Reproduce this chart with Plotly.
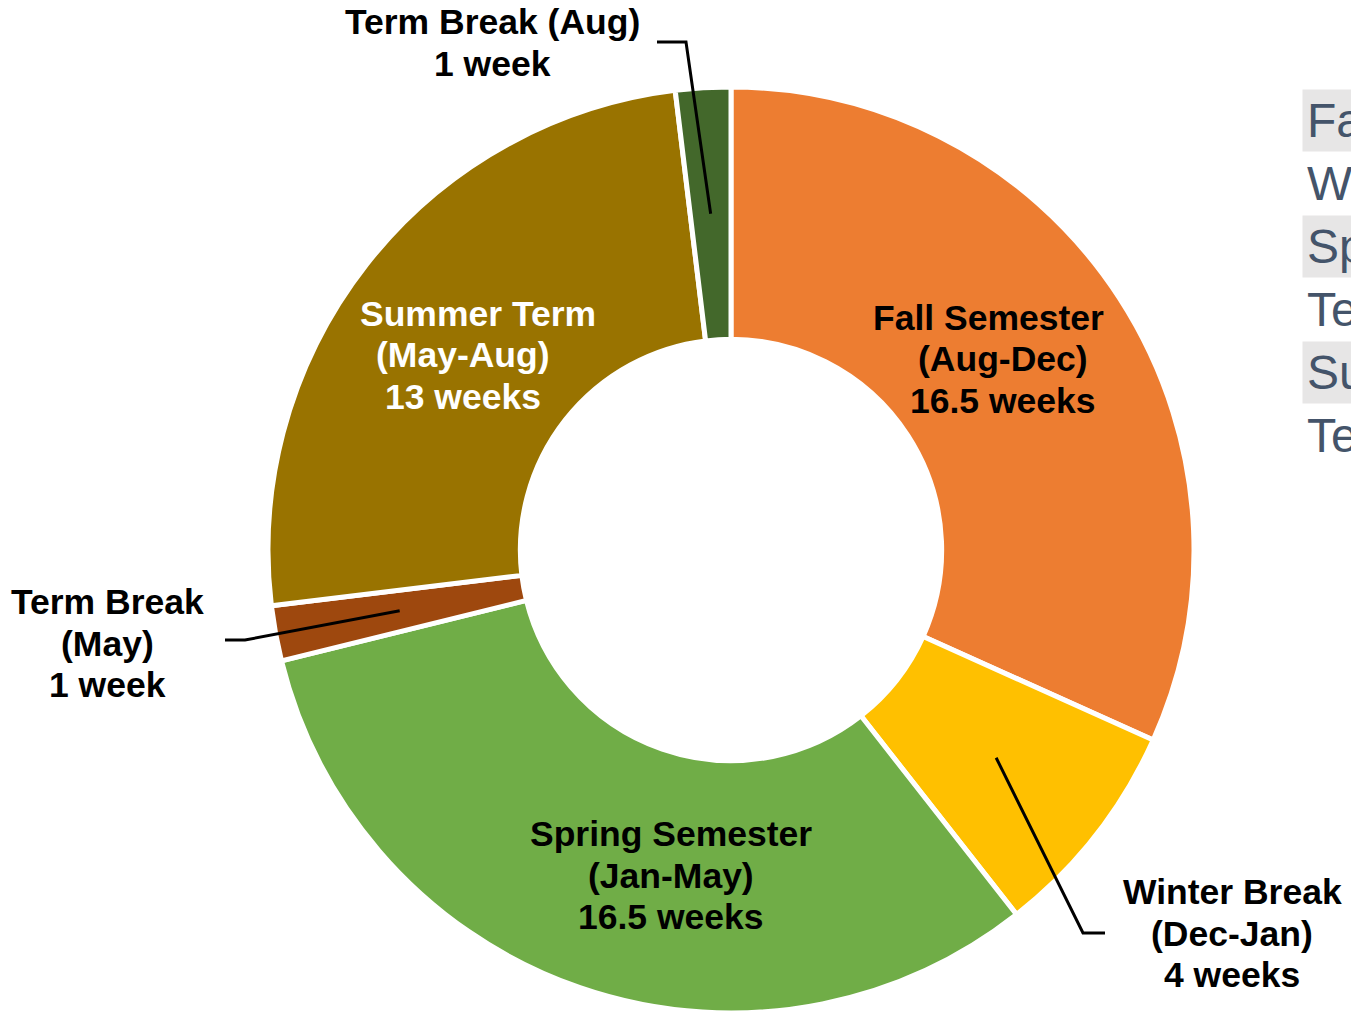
import math
import plotly.graph_objects as go

# ---------------- data ----------------
categories = ["Fall Semester", "Winter Break", "Spring Semester", "Term Break", "Summer Term", "Term Break"]
periods = ["(Aug-Dec)", "(Dec-Jan)", "(Jan-May)", "(May)", "(May-Aug)", "(Aug)"]
weeks = [16.5, 4, 16.5, 1, 13, 1]
colors = ["#ED7D31", "#FFC000", "#70AD47", "#9E480E", "#997300", "#43682B"]

# ---------------- layout constants ----------------
W, H = 1351, 1016
CX, CY, R = 731, 550, 463
HOLE = 0.455
FONT = "Arial, 'Liberation Sans', sans-serif"

# label placement (pixel centre of first line, x of later lines), line pitch
label_pos = [(988, 1003, 318), (1232, 1232, 892), (671, 671, 834), (108, 108, 602),
             (478, 463, 314), (492, 492, 22)]
label_color = ["black", "black", "black", "black", "white", "black"]
label_combine = [False, False, False, False, False, True]  # name+period on one line
LINE_PITCH = 41.5
# leader line elbows for outside labels (index -> list of pixel points after the slice anchor)
leaders = {5: [(686, 42), (657, 42)], 3: [(245, 640), (225, 640)], 1: [(1083, 933), (1105, 933)]}


def px(x):
    return x / W


def py(y):
    return 1 - y / H


def week_text(w):
    return f"{w:g} week" + ("" if w == 1 else "s")


names = [f"{c} {p}" if c == "Term Break" else c for c, p in zip(categories, periods)]

fig = go.Figure()
fig.add_trace(go.Pie(
    labels=names,
    values=weeks,
    sort=False,
    direction="clockwise",
    rotation=0,
    hole=HOLE,
    marker=dict(colors=colors, line=dict(color="white", width=5)),
    textinfo="none",
    hoverinfo="label+value",
    showlegend=False,
    domain=dict(x=[px(CX - R), px(CX + R)], y=[py(CY + R), py(CY - R)]),
))

annotations = []
shapes = []

# slice labels
for i, (cat, per, w) in enumerate(zip(categories, periods, weeks)):
    if label_combine[i]:
        lines = [f"{cat} {per}", week_text(w)]
    else:
        lines = [cat, per, week_text(w)]
    x_first, x_rest, y0 = label_pos[i]
    for k, t in enumerate(lines):
        annotations.append(dict(
            x=px(x_first if k == 0 else x_rest), y=py(y0 + k * LINE_PITCH),
            xref="paper", yref="paper",
            text=t, showarrow=False, xanchor="center", yanchor="middle",
            font=dict(family=FONT, size=35.5, color=label_color[i], weight="bold"),
        ))

# leader lines from the middle of the ring of each small slice
total = sum(weeks)
cum = 0
r_mid = R * (1 + HOLE) / 2
for i, w in enumerate(weeks):
    theta = math.radians(360 * (cum + w / 2) / total)
    cum += w
    if i in leaders:
        ax = CX + r_mid * math.sin(theta)
        ay = CY - r_mid * math.cos(theta)
        pts = [(ax, ay)] + leaders[i]
        path = "M " + " L ".join(f"{px(x):.5f},{py(y):.5f}" for x, y in pts)
        shapes.append(dict(type="path", xref="paper", yref="paper", path=path,
                           line=dict(color="black", width=3)))

# legend (clipped at the right edge, as in the original)
LEG_X, LEG_Y0, LEG_PITCH = 1302, 120.5, 63
for i, n in enumerate(names):
    annotations.append(dict(
        x=px(LEG_X), y=py(LEG_Y0 + i * LEG_PITCH), xref="paper", yref="paper",
        text=n, showarrow=False, xanchor="left", yanchor="middle", align="left",
        font=dict(family=FONT, size=48, color="#44546A"),
        bgcolor="#E7E6E6" if i % 2 == 0 else "rgba(0,0,0,0)", borderpad=4,
    ))

fig.update_layout(
    width=W, height=H,
    margin=dict(l=0, r=0, t=0, b=0, autoexpand=False),
    paper_bgcolor="white", plot_bgcolor="white",
    annotations=annotations, shapes=shapes,
    showlegend=False,
)

fig.write_html("out.html", config={"displayModeBar": False},
               post_script="document.body.style.margin='0';document.body.style.overflow='hidden';")
